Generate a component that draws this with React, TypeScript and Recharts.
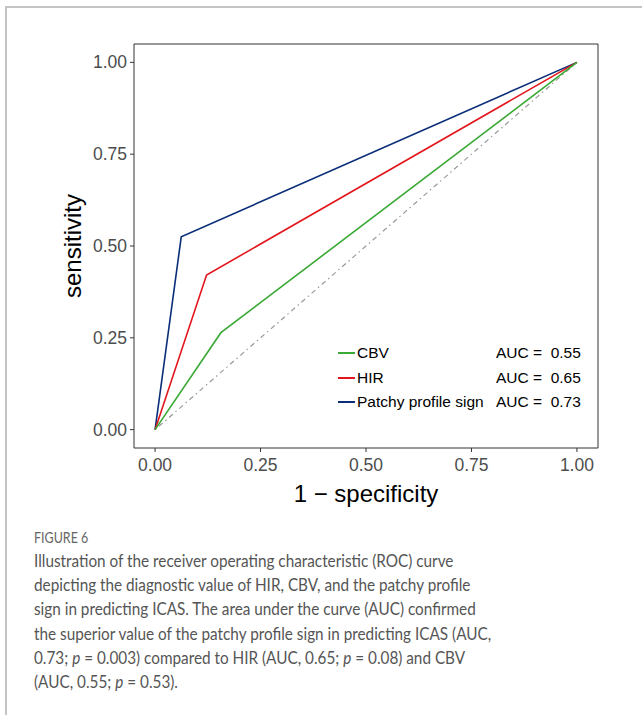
import { Label, Line, LineChart, ReferenceArea, XAxis, YAxis } from 'recharts';

const xTicks = [0, 0.25, 0.5, 0.75, 1];
const yTicks = [0, 0.25, 0.5, 0.75, 1];

const cbvPoints = [
  { x: 0, y: 0 },
  { x: 0.156, y: 0.264 },
  { x: 1, y: 1 },
];
const hirPoints = [
  { x: 0, y: 0 },
  { x: 0.122, y: 0.421 },
  { x: 1, y: 1 },
];
const patchyPoints = [
  { x: 0, y: 0 },
  { x: 0.062, y: 0.525 },
  { x: 1, y: 1 },
];
const chancePoints = [
  { x: 0, y: 0 },
  { x: 1, y: 1 },
];

const seriesNames = ['CBV', 'HIR', 'Patchy profile sign'];
const seriesAuc = ['0.55', '0.65', '0.73'];
const seriesColors = ['#3aa935', '#e3161d', '#0a2e78'];

const captionLines = [
  'Illustration of the receiver operating characteristic (ROC) curve',
  'depicting the diagnostic value of HIR, CBV, and the patchy profile',
  'sign in predicting ICAS. The area under the curve (AUC) confirmed',
  'the superior value of the patchy profile sign in predicting ICAS (AUC,',
  '0.73; p = 0.003) compared to HIR (AUC, 0.65; p = 0.08) and CBV',
  '(AUC, 0.55; p = 0.53).',
];

const font = '"Liberation Sans", Arial, Helvetica, sans-serif';

const XTick = (props: any) => {
  const { x, y, payload } = props;
  return (
    <text x={x} y={y + 16} textAnchor="middle" fill="#4d4d4d" fontSize={17.5} fontFamily={font}>
      {payload.value.toFixed(2)}
    </text>
  );
};

const YTick = (props: any) => {
  const { x, y, payload } = props;
  return (
    <text x={x} y={y + 6} textAnchor="end" fill="#4d4d4d" fontSize={17.5} fontFamily={font}>
      {payload.value.toFixed(2)}
    </text>
  );
};

const renderCaptionLine = (line: string) => {
  const parts = line.split(/(\bp\b)/);
  return parts.map((p, i) => (p === 'p' ? <i key={i}>p</i> : <span key={i}>{p}</span>));
};

const RocLegend = () => (
  <div style={{ fontFamily: font, fontSize: 15.5, color: '#000' }}>
    {seriesNames.map((name, i) => (
      <div
        key={name}
        style={{ display: 'flex', alignItems: 'center', height: 24.5, whiteSpace: 'pre' }}
      >
        <span
          style={{
            display: 'inline-block',
            width: 17,
            height: 2,
            background: seriesColors[i],
            marginRight: 2,
          }}
        />
        <span style={{ width: 139 }}>{name}</span>
        <span>{`AUC =  ${seriesAuc[i]}`}</span>
      </div>
    ))}
  </div>
);

export default function App() {
  return (
    <div
      style={{
        position: 'absolute',
        left: 0,
        top: 0,
        width: 642,
        height: 715,
        background: '#fff',
        overflow: 'hidden',
      }}
    >
      <div
        style={{
          position: 'absolute',
          left: 5,
          top: 6,
          width: 700,
          height: 720,
          borderTop: '2px solid #c4c4c4',
          borderLeft: '2px solid #c4c4c4',
        }}
      />
      <div style={{ position: 'absolute', left: 0, top: 0 }}>
        <LineChart
          width={642}
          height={520}
          margin={{ top: 44, right: 44, left: 74, bottom: 32 }}
        >
          <ReferenceArea
            x1={-0.05}
            x2={1.05}
            y1={-0.05}
            y2={1.05}
            fill="none"
            stroke="#333"
            strokeWidth={1}
            ifOverflow="visible"
          />
          <XAxis
            dataKey="x"
            type="number"
            domain={[-0.05, 1.05]}
            ticks={xTicks}
            allowDataOverflow
            axisLine={false}
            tickLine={{ stroke: '#333' }}
            tickSize={4}
            tickMargin={3}
            tick={<XTick />}
            height={40}
          >
            <Label
              value="1 − specificity"
              position="insideBottom"
              offset={-14}
              style={{ fill: '#000', fontSize: 24, fontFamily: font }}
            />
          </XAxis>
          <YAxis
            dataKey="y"
            type="number"
            domain={[-0.05, 1.05]}
            ticks={yTicks}
            allowDataOverflow
            axisLine={false}
            tickLine={{ stroke: '#333' }}
            tickSize={4}
            tickMargin={3}
            tick={<YTick />}
            width={60}
          >
            <Label
              value="sensitivity"
              angle={-90}
              position="insideLeft"
              offset={-2}
              style={{ fill: '#000', fontSize: 24, fontFamily: font, textAnchor: 'middle' }}
            />
          </YAxis>
          <Line
            data={chancePoints}
            dataKey="y"
            stroke="#9a9a9a"
            strokeWidth={1.2}
            strokeDasharray="1.5 3.5 5 3.5"
            dot={false}
            isAnimationActive={false}
          />
          <Line
            data={patchyPoints}
            dataKey="y"
            name={seriesNames[2]}
            stroke={seriesColors[2]}
            strokeWidth={1.6}
            dot={false}
            isAnimationActive={false}
          />
          <Line
            data={hirPoints}
            dataKey="y"
            name={seriesNames[1]}
            stroke={seriesColors[1]}
            strokeWidth={1.6}
            dot={false}
            isAnimationActive={false}
          />
          <Line
            data={cbvPoints}
            dataKey="y"
            name={seriesNames[0]}
            stroke={seriesColors[0]}
            strokeWidth={1.6}
            dot={false}
            isAnimationActive={false}
          />
        </LineChart>
      </div>
      <div style={{ position: 'absolute', left: 338, top: 341 }}>
        <RocLegend />
      </div>
      <div
        style={{
          position: 'absolute',
          left: 34,
          top: 529,
          fontFamily: 'Lato, sans-serif',
          fontSize: 14.5,
          color: '#666',
          transform: 'scaleX(0.86)',
          transformOrigin: 'left top',
        }}
      >
        FIGURE 6
      </div>
      <div
        style={{
          position: 'absolute',
          left: 34,
          top: 549,
          fontFamily: 'Lato, sans-serif',
          fontSize: 17,
          lineHeight: '24.2px',
          color: '#555',
          whiteSpace: 'nowrap',
          transform: 'scaleX(0.9)',
          transformOrigin: 'left top',
        }}
      >
        {captionLines.map((line, i) => (
          <div key={i}>{renderCaptionLine(line)}</div>
        ))}
      </div>
    </div>
  );
}
